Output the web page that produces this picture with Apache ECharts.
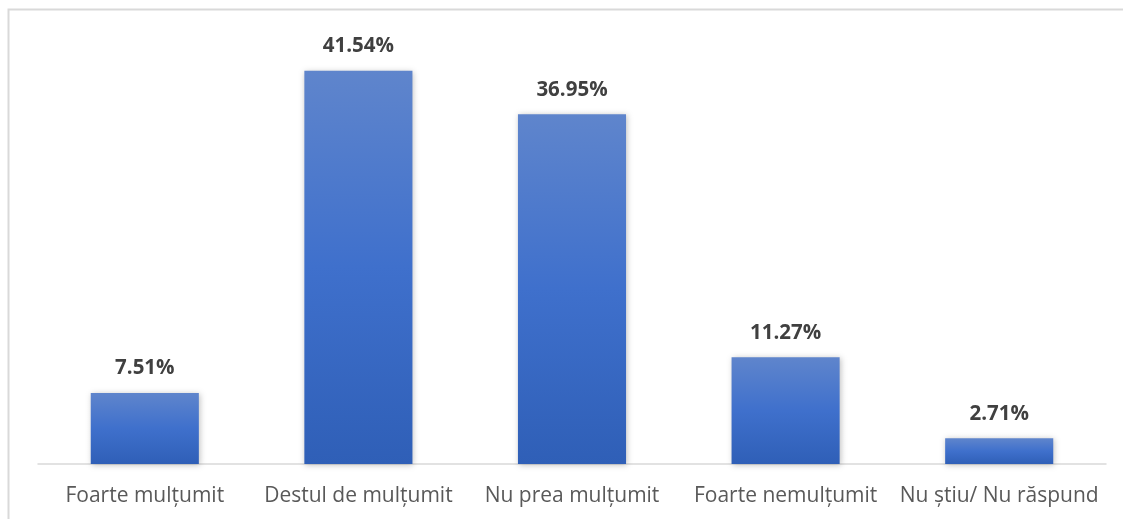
<!DOCTYPE html>
<html>
<head>
<meta charset="utf-8">
<script src="https://cdn.jsdelivr.net/npm/echarts@6/dist/echarts.min.js"></script>
<style>html,body{margin:0;padding:0;background:#fff}#c{width:1123px;height:519px}</style>
</head>
<body>
<div id="c"></div>
<script>
const categories = ['Foarte mulțumit', 'Destul de mulțumit', 'Nu prea mulțumit', 'Foarte nemulțumit', 'Nu știu/ Nu răspund'];
const values = [7.51, 41.54, 36.95, 11.27, 2.71];

const chart = echarts.init(document.getElementById('c'));
chart.setOption({
  animation: false,
  backgroundColor: '#fff',
  graphic: [{
    type: 'rect', silent: true, z: -1,
    shape: { x: 8.5, y: 9.5, width: 1300, height: 700 },
    style: { fill: 'none', stroke: '#d9d9d9', lineWidth: 2 }
  }],
  grid: { left: 38, right: 17, top: 38, bottom: 55 },
  xAxis: {
    type: 'category',
    data: categories,
    axisLine: { lineStyle: { color: '#d9d9d9', width: 1.5 } },
    axisTick: { show: false },
    axisLabel: { interval: 0, color: '#595959', fontSize: 21, fontFamily: 'Open Sans', margin: 22 }
  },
  yAxis: {
    type: 'value', min: 0, max: 45,
    show: false, splitLine: { show: false }
  },
  series: [{
    type: 'bar',
    data: values,
    barWidth: '50.6%',
    itemStyle: {
      color: new echarts.graphic.LinearGradient(0, 0, 0, 1, [
        { offset: 0, color: '#5f85cc' },
        { offset: 0.5, color: '#3f70cc' },
        { offset: 1, color: '#2f5fb7' }
      ]),
      shadowColor: 'rgba(0,0,0,0.25)', shadowBlur: 6, shadowOffsetX: 1, shadowOffsetY: 1
    },
    label: {
      show: true, position: 'top', distance: 14,
      formatter: p => p.value.toFixed(2) + '%',
      color: '#404040', fontSize: 20.5, fontWeight: 'bold', fontFamily: 'Open Sans'
    }
  }]
});
</script>
</body>
</html>
